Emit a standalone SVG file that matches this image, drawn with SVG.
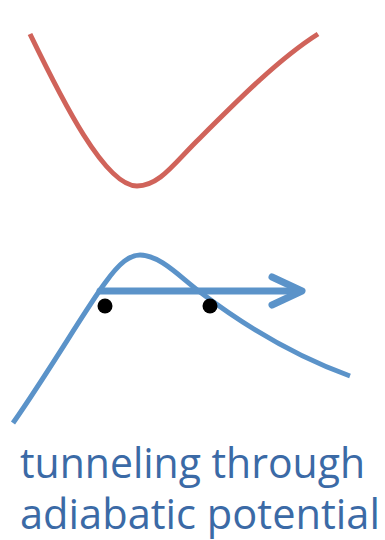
<svg xmlns="http://www.w3.org/2000/svg" width="385" height="540" viewBox="0 0 385 540">
<style>
.curve{fill:none;stroke-width:5;stroke-linecap:butt;stroke-linejoin:round}
.red{stroke:#d0635a}
.blue{stroke:#5b93c9}
.arrow{fill:none;stroke:#5b93c9;stroke-width:7;stroke-linecap:round;stroke-linejoin:round}
.dot{fill:#000}
.lbl{font-family:"Open Sans","Noto Sans",sans-serif;font-size:42px;fill:#3b6aa6}
</style>
<rect width="385" height="540" fill="#fff"/>
<g id="excited-potential">
<path class="curve red" d="M30,34 C62,100 105,186 137,186 C160,186 175,162 200,138 C240,98 280,58 318,34"/>
</g>
<g id="adiabatic-potential">
<path class="curve blue" d="M13,423 C50,370 85,310 105,283 C120,262 130,255 140,255 C160,255 180,277 200,292 C250,330 300,358 350,376"/>
</g>
<g id="connectors">
<path class="arrow" d="M100,291 H300"/>
<path class="arrow" d="M272,277 L302,291 L272,305"/>
</g>
<g id="turning-point-left"><circle class="dot" cx="105" cy="306" r="7.5"/></g>
<g id="turning-point-right"><circle class="dot" cx="210" cy="306" r="7.5"/></g>
<g id="label">
<text class="lbl" x="20" y="478" textLength="345" lengthAdjust="spacingAndGlyphs">tunneling through</text>
<text class="lbl" x="20" y="529" textLength="360" lengthAdjust="spacingAndGlyphs">adiabatic potential</text>
</g>
</svg>
